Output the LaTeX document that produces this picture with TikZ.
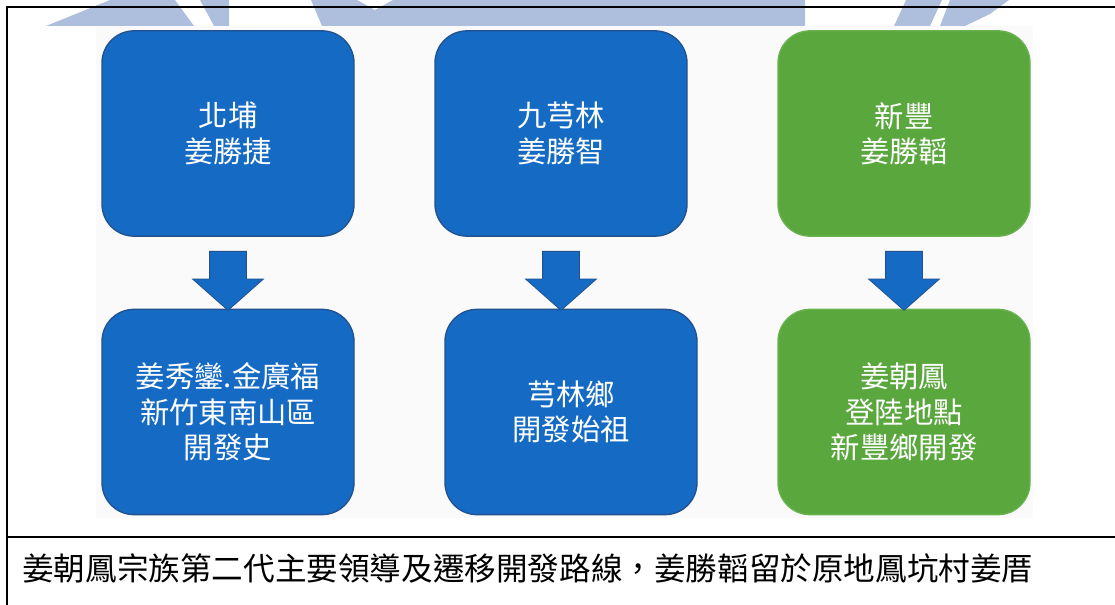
\documentclass[tikz,border=0pt]{standalone}
\usepackage{fontspec}
\newfontfamily\cjk{Noto Sans CJK TC}
\usetikzlibrary{
	shapes.arrows,
	calc
}
\definecolor{boxblue}{RGB}{21,106,196}
\definecolor{boxblueedge}{RGB}{34,82,142}
\definecolor{boxgreen}{RGB}{90,167,62}
\definecolor{boxgreenedge}{RGB}{106,178,80}
\definecolor{markblue}{RGB}{174,191,221}

\begin{document}
\begin{tikzpicture}[x=0.75pt,y=-0.75pt,
                place/.style={rounded corners=24pt, minimum width=189pt, minimum height=154pt, text=white, align=center, font=\cjk\fontsize{22}{26.5}\selectfont, line width=1pt},
                blueplace/.style={place, fill=boxblue, draw=boxblueedge},
                greenplace/.style={place, fill=boxgreen, draw=boxgreenedge},
                movearrow/.style={single arrow, shape border rotate=270, fill=boxblue, draw=boxblueedge, line width=0.6pt, inner sep=13.5pt, minimum height=44.25pt, single arrow head extend=12.75pt, single arrow tip angle=97}]
                \useasboundingbox (0,0) rectangle (1115,605);
                \fill[markblue] (110,0) -- (175,0) -- (194,26) -- (46,26) -- cycle;
                \fill[markblue] (200,0) -- (229,0) -- (229,26) -- (214,26) -- cycle;
                \fill[markblue] (311,0) -- (357,0) -- (375,10) -- (393,0) -- (805,0) -- (805,26) -- (322,26) -- cycle;
                \fill[markblue] (906,0) -- (942,0) -- (930,26) -- (894,26) -- cycle;
                \fill[markblue] (950,0) -- (1009,0) -- (990,14) -- (965,26) -- (940,26) -- cycle;
                \fill[black!2] (96,26) rectangle (1033,518);
                \draw[line width=1.5pt] (7,605) -- (7,7) -- (1115,7);
                \draw[line width=1.5pt] (7,537) -- (1115,537);
                \node[blueplace] (beipu) at (228,133.5) {北埔\\姜勝捷};
                \node[blueplace] (qiong) at (561,133.5) {九芎林\\姜勝智};
                \node[greenplace] (xinfeng) at (904,133.5) {新豐\\姜勝韜};
                \node[blueplace] (dongnan) at (228,412) {姜秀鑾.金廣福\\新竹東南山區\\開發史};
                \node[blueplace] (qionglin) at (571,412) {芎林鄉\\開發始祖};
                \node[greenplace] (denglu) at (904,412) {姜朝鳳\\登陸地點\\新豐鄉開發};
                \node[movearrow] (a1) at ($(beipu.south)!0.5!(beipu.south |- dongnan.north)$) {};
                \node[movearrow] (a2) at ($(qiong.south)!0.5!(qiong.south |- qionglin.north)$) {};
                \node[movearrow] (a3) at ($(xinfeng.south)!0.5!(xinfeng.south |- denglu.north)$) {};
                \node[anchor=west, inner sep=0pt, font=\cjk\fontsize{23.7}{28}\selectfont] (caption) at (22,568) {姜朝鳳宗族第二代主要領導及遷移開發路線，姜勝韜留於原地鳳坑村姜厝};
            \end{tikzpicture}
\end{document}
